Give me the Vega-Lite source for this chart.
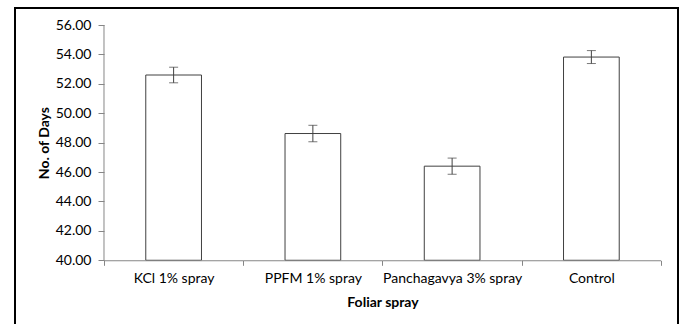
{
  "$schema": "https://vega.github.io/schema/vega-lite/v6.json",
  "width": 663,
  "height": 320,
  "autosize": "none",
  "padding": {"left": 15, "top": 8, "right": 3, "bottom": -4},
  "background": "white",
  "config": {"view": {"stroke": "#000000", "strokeWidth": 2}, "font": "Lato"},
  "data": {
    "values": [
      {"treatment": "KCl 1% spray", "days": 52.6, "lo": 52.07, "hi": 53.13},
      {"treatment": "PPFM 1%  spray", "days": 48.62, "lo": 48.06, "hi": 49.18},
      {"treatment": "Panchagavya 3% spray", "days": 46.4, "lo": 45.85, "hi": 46.95},
      {"treatment": "Control", "days": 53.82, "lo": 53.38, "hi": 54.26}
    ]
  },
  "layer": [
    {
      "mark": {"type": "bar", "width": {"band": 0.4}, "fill": "white", "stroke": "#404040", "strokeWidth": 1},
      "encoding": {
        "x": {
          "field": "treatment", "type": "nominal", "sort": null, "title": "Foliar spray",
          "scale": {"paddingInner": 0, "paddingOuter": 0.3806, "align": 0.8396},
          "axis": {
            "title": "Foliar spray", "tickBand": "extent", "domain": false, "offset": -67.7,
            "tickSize": 5, "tickColor": "#868686", "labelAngle": 0, "labelFont": "Lato",
            "labelFontSize": 14, "labelColor": "#000000", "labelPadding": 6,
            "titleFont": "Lato", "titleFontSize": 14, "titleFontWeight": "bold", "titleColor": "#000000",
            "titleX": 367.5, "titleY": 42, "titleBaseline": "middle", "titleAlign": "center"
          }
        },
        "y": {
          "field": "days", "type": "quantitative", "title": "No. of Days",
          "scale": {"domain": [35.3946, 57.1565], "nice": false, "zero": false},
          "axis": {
            "title": "No. of Days", "values": [40, 42, 44, 46, 48, 50, 52, 54, 56], "format": ".2f",
            "tickCount": 20, "labelOverlap": false,
            "domain": false, "grid": false, "offset": -89, "tickSize": 6, "tickColor": "#868686",
            "labelPadding": 7, "labelFont": "Lato", "labelFontSize": 14, "labelColor": "#000000",
            "titleFont": "Lato", "titleFontSize": 14, "titleFontWeight": "bold", "titleColor": "#000000",
            "titleX": -60, "titleY": 134.6, "titleBaseline": "middle", "titleAlign": "center", "titleAngle": -90
          }
        },
        "y2": {"datum": 40}
      }
    },
    {
      "mark": {"type": "rect", "fill": "#868686"},
      "encoding": {
        "x": {"field": "treatment", "type": "nominal", "sort": null, "title": "Foliar spray"},
        "y": {"datum": 40, "type": "quantitative", "title": "No. of Days"},
        "y2": {"datum": 39.93}
      }
    },
    {
      "transform": [{"filter": "datum.treatment === 'KCl 1% spray'"}],
      "mark": {"type": "rule", "color": "#868686", "strokeWidth": 1},
      "encoding": {
        "x": {"field": "treatment", "type": "nominal", "sort": null, "bandPosition": 0, "title": "Foliar spray"},
        "y": {"datum": 40, "type": "quantitative", "title": "No. of Days"},
        "y2": {"datum": 56}
      }
    },
    {
      "mark": {"type": "errorbar", "ticks": {"size": 9}, "color": "#404040", "thickness": 1},
      "encoding": {
        "x": {"field": "treatment", "type": "nominal", "sort": null, "title": "Foliar spray"},
        "y": {"field": "lo", "type": "quantitative", "title": "No. of Days"},
        "y2": {"field": "hi"}
      }
    }
  ]
}
